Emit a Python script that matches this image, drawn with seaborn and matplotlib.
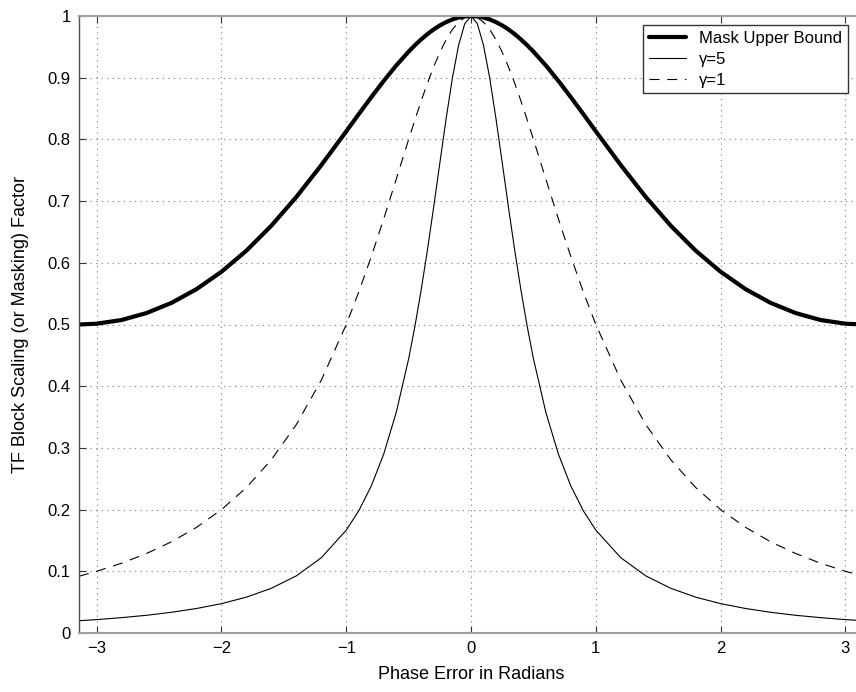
import numpy as np
import pandas as pd
import matplotlib
matplotlib.use("Agg")
import matplotlib.pyplot as plt
import seaborn as sns

# Phase error (radians)
phase = [-3.1416, -3.0, -2.8, -2.6, -2.4, -2.2, -2.0, -1.8, -1.6, -1.4, -1.2, -1.0,
         -0.9, -0.8, -0.7, -0.6, -0.5, -0.45, -0.4, -0.35, -0.3, -0.25, -0.2, -0.15,
         -0.1, -0.05, 0.0, 0.05, 0.1, 0.15, 0.2, 0.25, 0.3, 0.35, 0.4, 0.45, 0.5,
         0.6, 0.7, 0.8, 0.9, 1.0, 1.2, 1.4, 1.6, 1.8, 2.0, 2.2, 2.4, 2.6, 2.8, 3.0, 3.1416]

mask_upper = [0.5000, 0.5013, 0.5073, 0.5186, 0.5351, 0.5573, 0.5855, 0.6197, 0.6602,
              0.7067, 0.7583, 0.8131, 0.8409, 0.8683, 0.8948, 0.9197, 0.9423, 0.9526,
              0.9620, 0.9706, 0.9782, 0.9847, 0.9901, 0.9944, 0.9975, 0.9994, 1.0000,
              0.9994, 0.9975, 0.9944, 0.9901, 0.9847, 0.9782, 0.9706, 0.9620, 0.9526,
              0.9423, 0.9197, 0.8948, 0.8683, 0.8409, 0.8131, 0.7583, 0.7067, 0.6602,
              0.6197, 0.5855, 0.5573, 0.5351, 0.5186, 0.5073, 0.5013, 0.5000]

gamma5 = [0.0199, 0.0217, 0.0249, 0.0287, 0.0336, 0.0397, 0.0476, 0.0581, 0.0725,
          0.0926, 0.1220, 0.1667, 0.1980, 0.2381, 0.2899, 0.3571, 0.4444, 0.4969,
          0.5556, 0.6202, 0.6897, 0.7619, 0.8333, 0.8989, 0.9524, 0.9877, 1.0000,
          0.9877, 0.9524, 0.8989, 0.8333, 0.7619, 0.6897, 0.6202, 0.5556, 0.4969,
          0.4444, 0.3571, 0.2899, 0.2381, 0.1980, 0.1667, 0.1220, 0.0926, 0.0725,
          0.0581, 0.0476, 0.0397, 0.0336, 0.0287, 0.0249, 0.0217, 0.0199]

gamma1 = [0.0920, 0.1000, 0.1131, 0.1289, 0.1479, 0.1712, 0.2000, 0.2358, 0.2809,
          0.3378, 0.4098, 0.5000, 0.5525, 0.6098, 0.6711, 0.7353, 0.8000, 0.8316,
          0.8621, 0.8909, 0.9174, 0.9412, 0.9615, 0.9780, 0.9901, 0.9975, 1.0000,
          0.9975, 0.9901, 0.9780, 0.9615, 0.9412, 0.9174, 0.8909, 0.8621, 0.8316,
          0.8000, 0.7353, 0.6711, 0.6098, 0.5525, 0.5000, 0.4098, 0.3378, 0.2809,
          0.2358, 0.2000, 0.1712, 0.1479, 0.1289, 0.1131, 0.1000, 0.0920]

series_labels = ["Mask Upper Bound", "γ=5", "γ=1"]
x_ticks = [-3, -2, -1, 0, 1, 2, 3]
y_ticks = [0, 0.1, 0.2, 0.3, 0.4, 0.5, 0.6, 0.7, 0.8, 0.9, 1]
y_tick_labels = ["0", "0.1", "0.2", "0.3", "0.4", "0.5", "0.6", "0.7", "0.8", "0.9", "1"]

sns.set_theme(style="white")
plt.rcParams["font.family"] = ["Liberation Sans", "DejaVu Sans"]
plt.rcParams["axes.unicode_minus"] = True
plt.rcParams["text.color"] = "black"
plt.rcParams["axes.labelcolor"] = "black"

fig = plt.figure(figsize=(8.56, 6.92), dpi=100)
W, H = 856, 692
ax = fig.add_axes([79 / W, (H - 633) / H, 784.1 / W, 617 / H])

df = pd.DataFrame({"phase": phase * 3,
                   "value": mask_upper + gamma5 + gamma1,
                   "series": [series_labels[0]] * len(phase)
                   + [series_labels[1]] * len(phase)
                   + [series_labels[2]] * len(phase)})

styles = {
    series_labels[0]: dict(lw=3.0, ls="-"),
    series_labels[1]: dict(lw=0.8, ls="-"),
    series_labels[2]: dict(lw=0.8, ls=(0, (9, 7))),
}
for name in series_labels:
    sub = df[df["series"] == name]
    sns.lineplot(data=sub, x="phase", y="value", ax=ax, color="black",
                 linewidth=styles[name]["lw"], linestyle=styles[name]["ls"],
                 label=name, sort=False, estimator=None)

ax.set_xlim(-np.pi, np.pi)
ax.set_ylim(0, 1)
ax.set_xticks(x_ticks)
ax.set_xticklabels([f"{t}".replace("-", "\u2212") for t in x_ticks])
ax.set_yticks(y_ticks)
ax.set_yticklabels(y_tick_labels)

ax.grid(True, color="#777777", linestyle=(0, (1, 4)), linewidth=0.8)
ax.tick_params(direction="in", length=5, width=0.8, labelsize=12,
               top=True, right=True, bottom=True, left=True, colors="#333333",
               labelcolor="black", pad=6)

for side in ["top", "bottom"]:
    ax.spines[side].set_color("#a0a0a0")
    ax.spines[side].set_linewidth(1.5)
ax.spines["left"].set_color("#505050")
ax.spines["left"].set_linewidth(1.0)
ax.spines["right"].set_color("#505050")

ax.set_xlabel("Phase Error in Radians", fontsize=13, labelpad=7, color="black")
ax.set_ylabel("TF Block Scaling (or Masking) Factor", fontsize=13, labelpad=13,
              color="black")

leg = ax.legend(loc="upper right", bbox_to_anchor=(848 / W, 1 - 25 / H),
                bbox_transform=fig.transFigure, borderaxespad=0, fontsize=12,
                frameon=True, fancybox=False, framealpha=1, handlelength=2.2,
                borderpad=0.35, handletextpad=0.8, labelspacing=0.35)
leg.get_frame().set_edgecolor("#333333")
leg.get_frame().set_linewidth(1.0)
for t in leg.get_texts():
    t.set_color("black")

fig.savefig("out.png", dpi=100)
